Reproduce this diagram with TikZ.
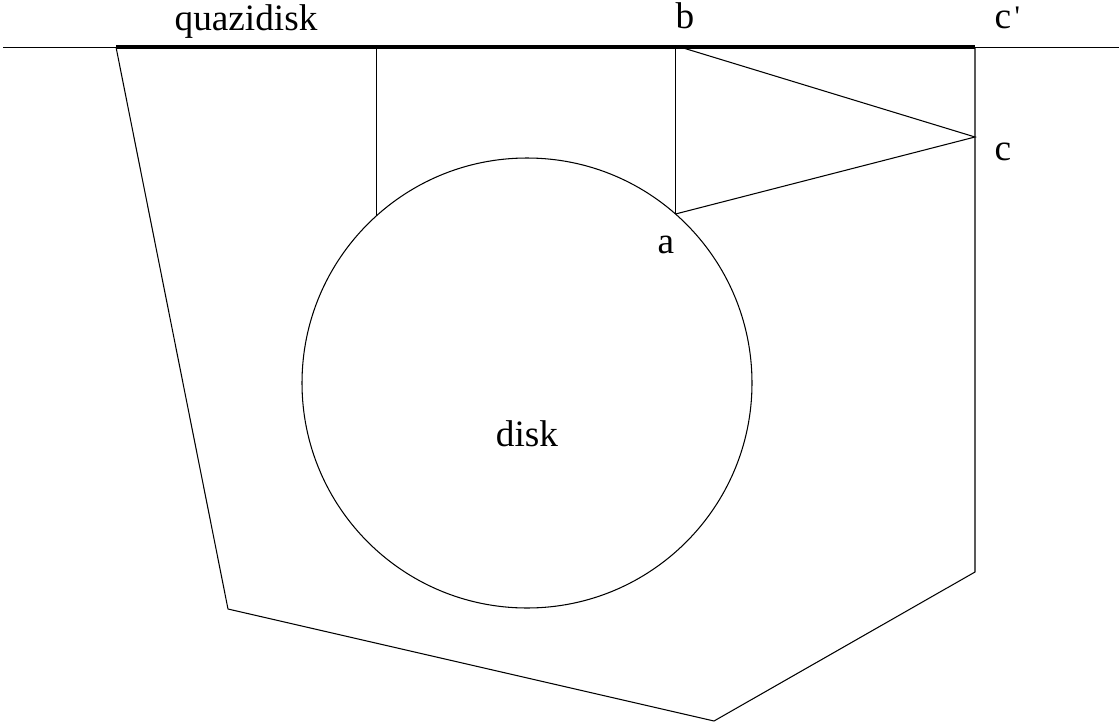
\documentclass[tikz,border=0pt]{standalone}
\usepackage{fontspec}
\setmainfont{Liberation Serif}

\begin{document}
\begin{tikzpicture}[x=0.02cm, y=-0.02cm, line width=0.6pt,
    lbl/.style={anchor=base, font=\fontsize{21.2}{25}\selectfont, inner sep=0pt}]
  \useasboundingbox (0,0) rectangle (1119,727);
  % points
  \coordinate (q) at (116,47);
  \coordinate (cp) at (975,47);
  \coordinate (b) at (680,47);
  \coordinate (b0) at (675.5,47);
  \coordinate (c) at (975,137);
  \coordinate (a) at (675.5,214);
  \coordinate (o) at (527,383);
  % line and quazidisk
  \draw[line width=0.5pt] (3,47) -- (1119,47);
  \draw[line width=2.2pt] (q) -- (cp);
  \draw (q) -- (228,609) -- (714,721) -- (975,572) -- (cp);
  \draw (o) circle[radius=225];
  \draw (376.5,47) -- (376.5,216);
  \draw (b0) -- (a);
  \draw (b) -- (c) -- (a);
  % labels
  \node[lbl] (lq) at (246,30) {quazidisk};
  \node[lbl] (lb) at (685,28) {b};
  \node[lbl, anchor=base west] (lcp) at (994,28)
    {c\kern2pt{\fontsize{17}{17}\selectfont\raisebox{0.05em}{\textquotesingle}}};
  \node[lbl, anchor=base west] (lc) at (994,160) {c};
  \node[lbl] (la) at (666,253) {a};
  \node[lbl] (ld) at (527,446) {disk};
\end{tikzpicture}
\end{document}
